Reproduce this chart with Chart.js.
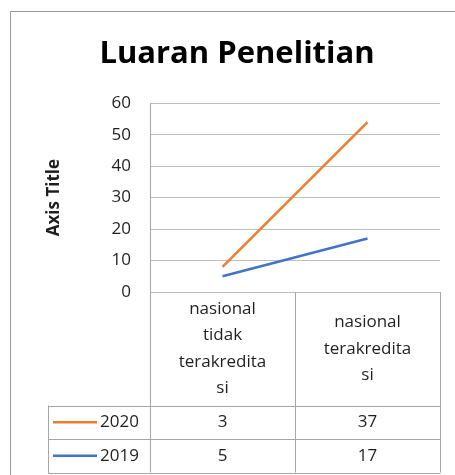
<!DOCTYPE html>
<html>
<head>
<meta charset="utf-8">
<script src="https://cdn.jsdelivr.net/npm/chart.js@4.4.1/dist/chart.umd.min.js"></script>
<style>
  html, body { margin: 0; padding: 0; background: #fff; }
  #wrap { width: 455px; height: 475px; }
</style>
</head>
<body>
<div id="wrap"><canvas id="chart" width="455" height="475"></canvas></div>
<script>
// data
const categories = ['nasional tidak terakreditasi', 'nasional terakreditasi'];
const headerLines = [['nasional', 'tidak', 'terakredita', 'si'], ['nasional', 'terakredita', 'si']];
const series2020 = [3, 37];
const series2019 = [5, 17];
const yTicks = [0, 10, 20, 30, 40, 50, 60];

const orange = '#ED7D31';
const blue = '#4472C4';
const gridColor = '#bfbfbf';
const borderColor = '#a6a6a6';
const fontFamily = '"Open Sans", "Noto Sans", sans-serif';

// table rows, same order as in the picture
const tableRows = [
  { label: '2020', values: series2020, color: orange },
  { label: '2019', values: series2019, color: blue }
];

function line(ctx, x1, y1, x2, y2) {
  ctx.beginPath();
  ctx.moveTo(x1, y1);
  ctx.lineTo(x2, y2);
  ctx.stroke();
}

// outer frame like the Excel chart border
const frame = {
  id: 'frame',
  beforeDraw(chart) {
    const ctx = chart.ctx;
    ctx.save();
    ctx.strokeStyle = '#9a9a9a';
    ctx.lineWidth = 1;
    ctx.beginPath();
    ctx.moveTo(10.5, chart.height);
    ctx.lineTo(10.5, 11.5);
    ctx.lineTo(chart.width, 11.5);
    ctx.stroke();
    ctx.restore();
  }
};

// data table under the plot
const dataTable = {
  id: 'dataTable',
  afterDraw(chart) {
    const ctx = chart.ctx;
    const x = chart.scales.x;
    const area = chart.chartArea;
    const half = (x.right - x.left) / categories.length / 2;
    const bounds = [x.left];
    categories.forEach((c, i) => bounds.push(x.getPixelForValue(i) + half));

    const headTop = area.bottom;
    const headBot = 405.5;
    const rowH = 33.5;
    const legLeft = 48.5;
    const tableBot = headBot + rowH * tableRows.length;

    ctx.save();
    ctx.strokeStyle = borderColor;
    ctx.lineWidth = 1;
    bounds.forEach((bx, i) => {
      const px = Math.round(bx) + 0.5;
      line(ctx, px, i === 0 ? area.top : headTop, px, tableBot);
    });
    for (let r = 0; r <= tableRows.length; r++) {
      const py = Math.round(headBot + r * rowH) + 0.5;
      line(ctx, legLeft, py, Math.round(x.right) + 0.5, py);
    }
    line(ctx, legLeft, headBot, legLeft, Math.round(tableBot) + 0.5);

    ctx.fillStyle = '#1f1f1f';
    ctx.font = '17px ' + fontFamily;
    ctx.textAlign = 'center';
    ctx.textBaseline = 'middle';

    // header cells
    const lh = 26.5;
    headerLines.forEach((lines, i) => {
      const cx = x.getPixelForValue(i);
      const cy = (headTop + headBot) / 2;
      lines.forEach((t, k) => {
        ctx.fillText(t, cx, cy + (k - (lines.length - 1) / 2) * lh);
      });
    });

    // value rows with legend keys
    tableRows.forEach((row, r) => {
      const cy = headBot + rowH * r + rowH / 2;
      ctx.strokeStyle = row.color;
      ctx.lineWidth = 2.5;
      line(ctx, 53, cy, 97, cy);
      ctx.textAlign = 'left';
      ctx.fillText(row.label, 100, cy);
      ctx.textAlign = 'center';
      row.values.forEach((v, i) => {
        ctx.fillText(String(v), x.getPixelForValue(i), cy);
      });
    });
    ctx.restore();
  }
};

const ctx = document.getElementById('chart').getContext('2d');
new Chart(ctx, {
  type: 'line',
  data: {
    labels: categories,
    datasets: [
      // 2019 first so 2020 is stacked on top of it
      { label: '2019', data: series2019, borderColor: blue, backgroundColor: blue, borderWidth: 2.5, pointRadius: 0, fill: false, tension: 0 },
      { label: '2020', data: series2020, borderColor: orange, backgroundColor: orange, borderWidth: 2.5, pointRadius: 0, fill: false, tension: 0 }
    ]
  },
  options: {
    responsive: false,
    animation: false,
    layout: { padding: { left: 34, right: 15, top: 0, bottom: 183 } },
    scales: {
      x: {
        display: false,
        offset: true
      },
      y: {
        stacked: true,
        min: 0,
        max: 60,
        afterBuildTicks: scale => { scale.ticks = yTicks.map(v => ({ value: v })); },
        afterFit: scale => { scale.width = 116; },
        grid: { color: gridColor, drawTicks: false },
        border: { display: true, color: borderColor },
        ticks: { padding: 19, color: '#1f1f1f', font: { family: fontFamily, size: 17 } },
        title: {
          display: true,
          text: 'Axis Title',
          color: '#1f1f1f',
          padding: { top: 10, bottom: 0 },
          font: { family: fontFamily, size: 17, weight: 'bold' }
        }
      }
    },
    plugins: {
      legend: { display: false },
      tooltip: { enabled: false },
      title: {
        display: true,
        text: 'Luaran Penelitian',
        color: '#000',
        padding: { top: 36, bottom: 30 },
        font: { family: fontFamily, size: 31, weight: 'bold' }
      }
    }
  },
  plugins: [frame, dataTable]
});
</script>
</body>
</html>
